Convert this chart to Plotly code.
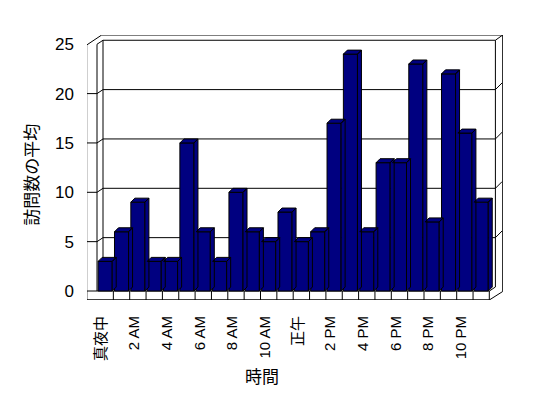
import plotly.graph_objects as go

# ---- data ----
hours = list(range(24))
visits = [3, 6, 9, 3, 3, 15, 6, 3, 10, 6, 5, 8, 5, 6, 17, 24, 6, 13, 13, 23, 7, 22, 16, 9]
tick_positions = [0, 2, 4, 6, 8, 10, 12, 14, 16, 18, 20, 22]
tick_labels = ["真夜中", "2 AM", "4 AM", "6 AM", "8 AM", "10 AM", "正午", "2 PM", "4 PM", "6 PM", "8 PM", "10 PM"]
y_ticks = [0, 5, 10, 15, 20, 25]

# page geometry (the html body has an 8px default margin)
OFF = 8
PW, PH = 548, 398
PL, PR, PT, PB = 87, 503, 35, 300   # plot area in page pixels

# pixel <-> data mapping for the oblique 3-D look
PITCH = 16.35      # px per category
X0PX = 97.0        # pixel of category -0.5 (front plane)
UNIT = 9.87        # px per value unit
Y0PX = 291.0       # pixel of value 0 (front plane)


def px2x(p):
    return -0.5 + (p - X0PX) / PITCH


def px2y(p):
    return (Y0PX - p) / UNIT


xr = [px2x(PL), px2x(PR)]
yr = [px2y(PB), px2y(PT)]

# depth offsets (data units)
BDX, BDY = 4 / PITCH, 4 / UNIT         # bars
WDX, WDY = 6 / PITCH, 4 / UNIT         # back wall (inner)
bar_w = 0.86
LABEL_SHIFT = -0.22                    # visual offset of rotated category labels

NAVY = "#000080"

fig = go.Figure()

# ---- walls / floor (decoration) ----
shapes = []
line = dict(color="black", width=1)


def path(points, fill=None, close=True):
    d = "M " + " L ".join(f"{x},{y}" for x, y in points)
    if close:
        d += " Z"
    s = dict(type="path", path=d, xref="x", yref="y", line=line, layer="below")
    if fill:
        s["fillcolor"] = fill
    return s


def P(px, py):
    return (px2x(px), px2y(py))


# silhouette
shapes.append(path([P(86.7, 300), P(86.7, 45), P(101.7, 35), P(502.7, 35),
                    P(502.7, 291.5), P(489.3, 300)], fill="white"))
# back wall inner
xl_b, xr_b = -0.5 + WDX, 23.5 + WDX
shapes.append(path([(xl_b, WDY), (xl_b, 25 + WDY), (xr_b, 25 + WDY), (xr_b, WDY)], close=False))
# left wall inner edges
shapes.append(path([(-0.5, 0), (-0.5, 25), (xl_b, 25 + WDY)], close=False))
# top right diagonal
shapes.append(path([(xr_b, 25 + WDY), P(502.7, 35)], close=False))
# floor front face
shapes.append(path([P(86.7, 291), P(489.3, 291), P(489.3, 300), P(86.7, 300)]))
# floor right top edge
shapes.append(path([(23.5, 0), (xr_b, WDY)], close=False))
# floor cell dividers at category boundaries
for k in range(1, 24):
    xb = k - 0.5
    shapes.append(path([(xb, 0), (xb, px2y(300))], close=False))
# gridlines (front tick on left wall, diagonal, back wall line, right diagonal)
for v in y_ticks[1:-1]:
    shapes.append(path([(px2x(86.7), v), (-0.5, v), (xl_b, v + WDY), (xr_b, v + WDY),
                        (xr_b + 6.7 / PITCH, v + WDY + 6.7 / UNIT)], close=False))

# ---- bars: front faces ----
fig.add_trace(go.Bar(
    x=hours, y=visits, width=bar_w,
    marker=dict(color=NAVY, line=dict(color="black", width=1)),
    hoverinfo="x+y", showlegend=False,
))

# ---- bars: top and side faces (from the same values) ----
px_, py_ = [], []
for h, v in zip(hours, visits):
    xl, xrr = h - bar_w / 2, h + bar_w / 2
    # side
    px_ += [xrr, xrr + BDX, xrr + BDX, xrr, xrr, None]
    py_ += [0, BDY, v + BDY, v, 0, None]
    # top
    px_ += [xl, xrr, xrr + BDX, xl + BDX, xl, None]
    py_ += [v, v, v + BDY, v + BDY, v, None]
fig.add_trace(go.Scatter(
    x=px_, y=py_, mode="lines", fill="toself", fillcolor=NAVY,
    line=dict(color="black", width=1), hoverinfo="skip", showlegend=False,
))

FONT = "Liberation Sans, Arial, Noto Sans CJK JP, sans-serif"
CJK = "Noto Sans CJK JP, sans-serif"


def paper_x(px):
    return (px - PL) / (PR - PL)


def paper_y(py):
    return (PB - py) / (PB - PT)


fig.update_layout(
    width=PW - OFF, height=PH - OFF,
    margin=dict(l=PL - OFF, r=PW - PR, t=PT - OFF, b=PH - PB, pad=0, autoexpand=False),
    paper_bgcolor="white", plot_bgcolor="rgba(0,0,0,0)",
    shapes=shapes,
    font=dict(family=FONT, size=16, color="black"),
    xaxis=dict(range=xr, showgrid=False, zeroline=False, showline=False, automargin=False,
               tickmode="array", tickvals=[p + LABEL_SHIFT for p in tick_positions],
               ticktext=tick_labels,
               tickangle=-90, ticks="", ticklabelstandoff=12,
               tickfont=dict(family="Liberation Sans, Noto Sans CJK JP, sans-serif", size=15)),
    yaxis=dict(range=yr, showgrid=False, zeroline=False, showline=False, automargin=False,
               tickmode="array", tickvals=y_ticks, ticks="", ticklabelstandoff=12,
               tickfont=dict(size=17)),
    annotations=[
        dict(text="時間", xref="paper", yref="paper",
             x=paper_x(262), y=paper_y(375.5),
             showarrow=False, font=dict(family=CJK, size=17), xanchor="center", yanchor="middle"),
        dict(text="訪問数の平均", xref="paper", yref="paper",
             x=paper_x(29.7), y=paper_y(175),
             showarrow=False, textangle=-90, font=dict(family=CJK, size=17),
             xanchor="center", yanchor="middle"),
    ],
)

fig.write_html("out.html")
